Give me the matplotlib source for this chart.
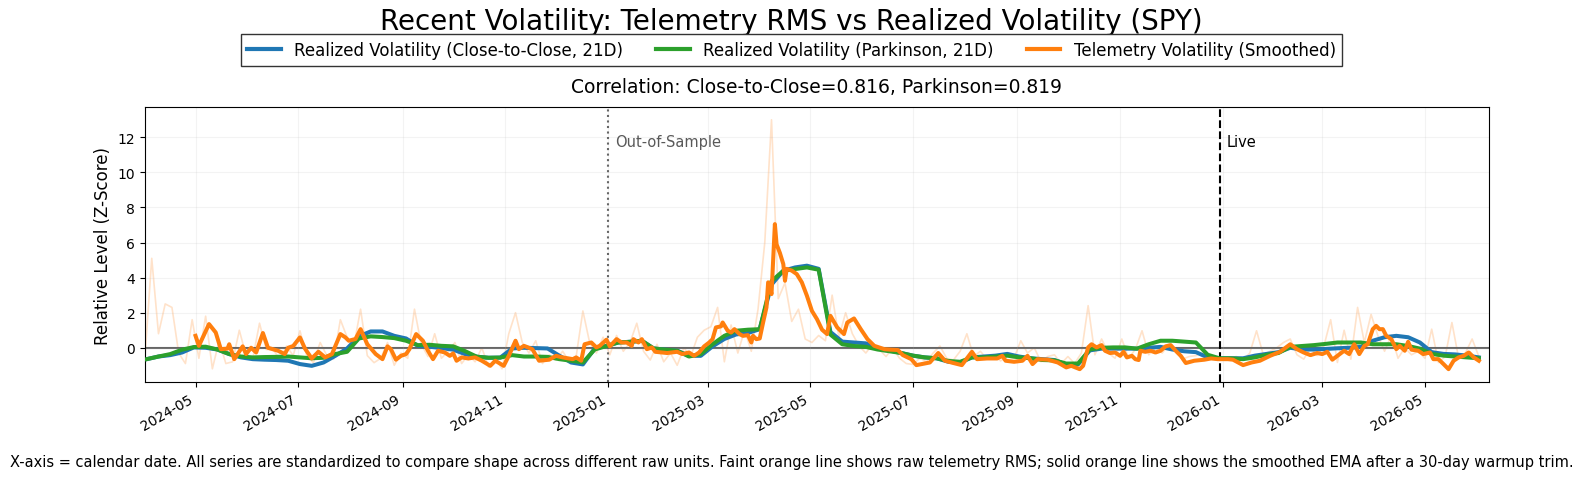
import pandas as pd
import matplotlib
matplotlib.use("Agg")
import matplotlib.pyplot as plt
import matplotlib.dates as mdates

# weekly realized vol z-scores, first point 2024-04-02
rv_start = "2024-04-02"
rv_close = [-0.65, -0.5, -0.42, -0.27, 0.02, 0.0, -0.1, -0.36, -0.55, -0.65,
            -0.68, -0.7, -0.74, -0.93, -1.03, -0.84, -0.46, -0.04, 0.65, 0.93,
            0.93, 0.68, 0.53, 0.11, 0.06, -0.02, -0.11, -0.36, -0.51, -0.57,
            -0.56, -0.04, 0.0, -0.02, -0.04, -0.45, -0.84, -0.95, -0.04, 0.11,
            0.3, 0.34, 0.4, -0.04, -0.11, -0.17, -0.46, -0.46, 0.08, 0.5,
            0.76, 0.84, 1.06, 3.6, 4.39, 4.58, 4.68, 4.5, 0.9, 0.35,
            0.3, 0.25, -0.05, -0.15, -0.3, -0.45, -0.55, -0.6, -0.8, -0.85,
            -0.55, -0.5, -0.45, -0.35, -0.5, -0.6, -0.65, -0.7, -0.95, -0.95,
            -0.15, -0.05, -0.05, -0.05, -0.05, 0.0, 0.05, -0.1, -0.2, -0.25,
            -0.55, -0.6, -0.6, -0.6, -0.45, -0.35, -0.25, 0.0, -0.1, -0.1,
            -0.07, -0.03, 0.0, 0.05, 0.4, 0.6, 0.68, 0.6, 0.3, -0.25,
            -0.35, -0.38, -0.45, -0.55]
rv_parkinson = [-0.65, -0.5, -0.36, -0.11, 0.04, 0.06, -0.1, -0.36, -0.5, -0.55,
                -0.53, -0.52, -0.5, -0.55, -0.6, -0.57, -0.36, -0.23, 0.53, 0.65,
                0.61, 0.55, 0.4, 0.15, 0.17, 0.11, 0.08, -0.19, -0.51, -0.57,
                -0.56, -0.42, -0.5, -0.5, -0.52, -0.65, -0.74, -0.84, -0.1, 0.1,
                0.3, 0.34, 0.4, -0.04, -0.11, -0.17, -0.5, -0.36, 0.2, 0.68,
                0.97, 1.03, 1.06, 3.8, 4.39, 4.49, 4.58, 4.45, 0.75, 0.2,
                0.1, 0.05, -0.1, -0.2, -0.3, -0.45, -0.55, -0.6, -0.75, -0.8,
                -0.55, -0.55, -0.5, -0.45, -0.55, -0.6, -0.7, -0.72, -0.9, -0.9,
                -0.1, 0.0, 0.02, 0.02, -0.05, 0.2, 0.4, 0.4, 0.35, 0.3,
                -0.4, -0.6, -0.6, -0.65, -0.55, -0.4, -0.3, 0.05, 0.1, 0.15,
                0.22, 0.3, 0.3, 0.3, 0.2, 0.2, 0.2, 0.1, -0.05, -0.35,
                -0.45, -0.5, -0.55, -0.6]

# raw telemetry RMS z-score, every 4 days from 2024-04-01
raw_start = "2024-04-01"
raw_telemetry = [-0.5, 5.1, 0.8, 2.5, 2.3, -0.3, -0.9, 1.6, -0.6, 1.8,
                 -1.2, 0.4, -0.9, -0.8, 1.0, -0.45, -0.6, 1.4, -0.1, -0.1,
                 -0.65, 0.1, -0.45, 0.97, -0.45, -0.85, 0.3, -0.45, -0.65, 1.6,
                 0.6, 0.1, 2.2, -0.45, -0.85, -0.6, 0.3, -1.0, -0.3, -0.6,
                 2.2, 0.2, -0.5, 0.8, -0.6, -0.2, 0.3, -0.9, -0.4, -0.8,
                 0.0, -1.1, -0.6, -1.2, 0.8, 2.0, 0.3, -0.3, 0.4, -0.9,
                 -0.4, -0.7, -0.2, -0.8, -0.5, 2.1, 0.3, -0.3, 0.6, -0.4,
                 0.7, -0.2, 0.3, 1.4, -0.2, -0.7, 0.2, -0.8, -0.3, -1.0,
                 0.0, -0.5, 0.6, 1.0, 1.2, 2.3, -0.8, 1.3, -0.3, 1.0,
                 -0.2, 2.2, 6.0, 13.0, 2.8, 3.7, 1.5, 2.2, 0.5, 0.3,
                 0.7, 0.4, 3.0, 0.6, 2.0, 0.8, 0.1, -0.3, 0.2, -0.1,
                 -0.5, 0.0, -0.6, -0.9, -0.95, -0.6, -0.8, -0.3, 0.1, -0.6,
                 -0.7, -0.2, 0.8, -0.5, -0.2, -0.65, -0.4, -0.75, -0.5, -0.6,
                 0.4, -0.3, 0.0, -0.8, -0.5, -0.4, -0.9, -0.5, -0.9, -0.3,
                 2.4, -0.4, 0.5, -0.3, -0.6, 0.5, -0.6, -0.1, 0.97, -0.4,
                 0.0, -0.3, 0.2, -0.2, -0.65, -0.5, -0.45, -0.3, -0.6, -0.55,
                 -0.7, -0.6, -0.5, -0.7, -0.3, 0.97, -0.4, -0.2, 0.0, 0.3,
                 0.5, -0.4, -0.65, 0.0, -0.45, 0.1, 1.6, -0.84, 1.0, -0.65,
                 2.3, 0.3, 1.9, 0.7, -0.2, 0.7, -0.6, 0.0, -0.4, -0.2,
                 -0.6, 1.06, -0.84, -0.5, 1.44, -0.6, -0.3, 0.5, -0.5]

# smoothed telemetry EMA, days relative to 2025-01-01
smooth_day = [-245, -243, -237, -233, -230, -226, -225, -222, -217, -215,
              -212, -209, -205, -202, -196, -192, -190, -187, -183, -180,
              -176, -172, -168, -164, -159, -156, -154, -150, -147, -143,
              -138, -134, -131, -129, -126, -123, -120, -118, -114, -110,
              -107, -104, -101, -97, -94, -92, -90, -87, -83, -79,
              -75, -70, -67, -62, -59, -55, -53, -50, -45, -41,
              -35, -31, -27, -21, -19, -16, -14, -10, -7, -5,
              -1, 1, 5, 8, 11, 14, 15, 18, 20, 23,
              26, 28, 35, 41, 44, 48, 51, 54, 57, 60,
              62, 64, 67, 68, 71, 73, 75, 78, 80, 83,
              85, 86, 88, 90, 92, 94, 95, 97, 99, 100,
              102, 104, 105, 106, 109, 112, 115, 118, 121, 124,
              127, 130, 132, 136, 140, 142, 146, 150, 154, 158,
              164, 168, 172, 175, 180, 183, 191, 196, 200, 205,
              210, 216, 219, 225, 231, 234, 236, 241, 246, 249,
              252, 255, 261, 267, 272, 275, 280, 282, 285, 287,
              290, 293, 295, 298, 301, 304, 306, 308, 311, 313,
              315, 316, 319, 322, 325, 328, 331, 334, 337, 340,
              343, 348, 354, 358, 362, 368, 371, 377, 382, 387,
              393, 399, 405, 409, 413, 417, 421, 424, 427, 430,
              433, 437, 440, 443, 446, 449, 451, 454, 456, 458,
              460, 462, 465, 468, 470, 473, 475, 477, 481, 484,
              488, 490, 493, 496, 499, 502, 505, 508, 511, 514,
              517]
smooth_telemetry = [0.68, 0.11, 1.35, 0.87, -0.08, -0.05, 0.2, -0.65, 0.08, -0.36,
                    0.0, -0.27, 0.84, 0.0, -0.17, -0.36, 0.0, 0.1, 0.59, -0.05,
                    -0.61, -0.23, -0.55, -0.36, 0.78, 0.59, 0.4, 0.5, 1.06, 0.2,
                    -0.36, -0.65, 0.08, -0.08, -0.68, -0.46, -0.36, -0.08, 0.78, 0.4,
                    -0.17, -0.65, -0.17, -0.27, -0.46, -0.32, -0.74, -0.55, -0.61, -0.55,
                    -0.74, -1.03, -0.74, -1.03, -0.46, 0.4, -0.08, 0.11, -0.08, -0.74,
                    -0.68, -0.46, -0.55, -0.65, -0.55, -0.74, 0.2, 0.3, 0.02, 0.11,
                    0.46, 0.08, 0.49, 0.3, 0.3, 0.11, 0.49, 0.3, 0.49, -0.08,
                    0.02, -0.23, -0.3, -0.23, -0.36, -0.27, -0.46, -0.27, 0.08, 0.3,
                    0.49, 1.16, 1.22, 1.44, 0.97, 0.87, 1.06, 0.78, 0.68, 0.72,
                    0.3, 0.68, 0.49, 0.53, 1.44, 2.3, 3.73, 3.06, 7.05, 5.9,
                    5.4, 4.77, 3.82, 4.5, 4.4, 4.2, 3.73, 2.97, 2.1, 1.63,
                    1.03, 0.78, 1.82, 1.16, 0.78, 1.44, 1.67, 1.06, 0.49, 0.11,
                    -0.08, -0.11, -0.13, -0.42, -0.65, -0.99, -0.84, -0.3, -0.74, -0.87,
                    -0.99, -0.23, -0.65, -0.61, -0.61, -0.46, -0.74, -0.8, -0.74, -0.46,
                    -0.93, -0.65, -0.68, -0.84, -1.12, -1.03, -1.22, -1.03, 0.02, 0.2,
                    0.02, 0.15, -0.17, -0.3, -0.27, -0.46, -0.23, -0.55, -0.46, -0.65,
                    -0.7, -0.17, -0.23, -0.17, -0.27, -0.17, 0.08, 0.15, -0.17, -0.46,
                    -0.87, -0.74, -0.68, -0.61, -0.65, -0.65, -0.68, -0.99, -0.84, -0.74,
                    -0.46, -0.23, 0.2, -0.08, -0.27, -0.42, -0.3, -0.36, -0.23, -0.68,
                    -0.46, -0.17, -0.36, 0.2, -0.36, 0.11, 0.2, 1.06, 1.25, 1.06,
                    1.06, 0.68, 0.49, -0.08, 0.11, -0.17, 0.34, -0.11, -0.17, -0.36,
                    -0.27, -0.65, -0.65, -0.93, -1.22, -0.74, -0.55, -0.46, -0.27, -0.55,
                    -0.74]

oos_date = "2025-01-01"
live_date = "2025-12-30"
corr_cc = 0.816
corr_pk = 0.819


def main():
    rv_dates = pd.date_range(rv_start, periods=len(rv_close), freq="7D")
    raw_dates = pd.date_range(raw_start, periods=len(raw_telemetry), freq="4D")
    smooth_dates = pd.Timestamp("2025-01-01") + pd.to_timedelta(smooth_day, unit="D")

    fig = plt.figure(figsize=(15.83, 4.81), dpi=100)
    ax = fig.add_axes([0.0916, 0.2031, 0.8490, 0.5717])

    ax.plot(raw_dates, raw_telemetry, color="#ff7f0e", alpha=0.22, lw=1.2, zorder=1)
    ax.plot(rv_dates, rv_close, color="#1f77b4", lw=2.9, zorder=2,
            label="Realized Volatility (Close-to-Close, 21D)")
    ax.plot(rv_dates, rv_parkinson, color="#2ca02c", lw=2.9, zorder=3,
            label="Realized Volatility (Parkinson, 21D)")
    ax.plot(smooth_dates, smooth_telemetry, color="#ff7f0e", lw=2.9, zorder=4,
            label="Telemetry Volatility (Smoothed)")

    ax.axhline(0, color="0.4", lw=1.5, zorder=1.5)
    oos = pd.Timestamp(oos_date)
    live = pd.Timestamp(live_date)
    ax.axvline(oos, color="0.4", ls=":", lw=1.5)
    ax.axvline(live, color="black", ls="--", lw=1.5)
    ax.text(oos + pd.Timedelta(days=4), 11.75, "Out-of-Sample", color="0.35",
            fontsize=10.5, ha="left", va="center")
    ax.text(live + pd.Timedelta(days=4), 11.75, "Live", color="black",
            fontsize=10.5, ha="left", va="center")

    ax.set_xlim(pd.Timestamp("2024-04-01"), pd.Timestamp("2026-06-08"))
    ax.set_ylim(-1.97, 13.71)
    ax.xaxis.set_major_locator(mdates.MonthLocator(bymonth=[1, 3, 5, 7, 9, 11]))
    ax.xaxis.set_major_formatter(mdates.DateFormatter("%Y-%m"))
    plt.setp(ax.get_xticklabels(), rotation=30, ha="right")
    ax.grid(True, alpha=0.15)
    ax.set_ylabel("Relative Level (Z-Score)", fontsize=12)
    ax.set_title(f"Correlation: Close-to-Close={corr_cc:.3f}, Parkinson={corr_pk:.3f}",
                 fontsize=13.5, pad=11)

    fig.suptitle("Recent Volatility: Telemetry RMS vs Realized Volatility (SPY)",
                 fontsize=20, y=0.954, va="center")
    leg = fig.legend(loc="center", bbox_to_anchor=(0.5, 0.894), ncol=3, fontsize=12,
                     fancybox=False, edgecolor="0.2", framealpha=1)
    for line in leg.get_lines():
        line.set_linewidth(3)
    fig.text(0.5, 0.0395,
             "X-axis = calendar date. All series are standardized to compare shape across "
             "different raw units. Faint orange line shows raw telemetry RMS; solid orange "
             "line shows the smoothed EMA after a 30-day warmup trim.",
             ha="center", va="center", fontsize=10.5)

    fig.savefig("out.png", dpi=100)


if __name__ == "__main__":
    main()
